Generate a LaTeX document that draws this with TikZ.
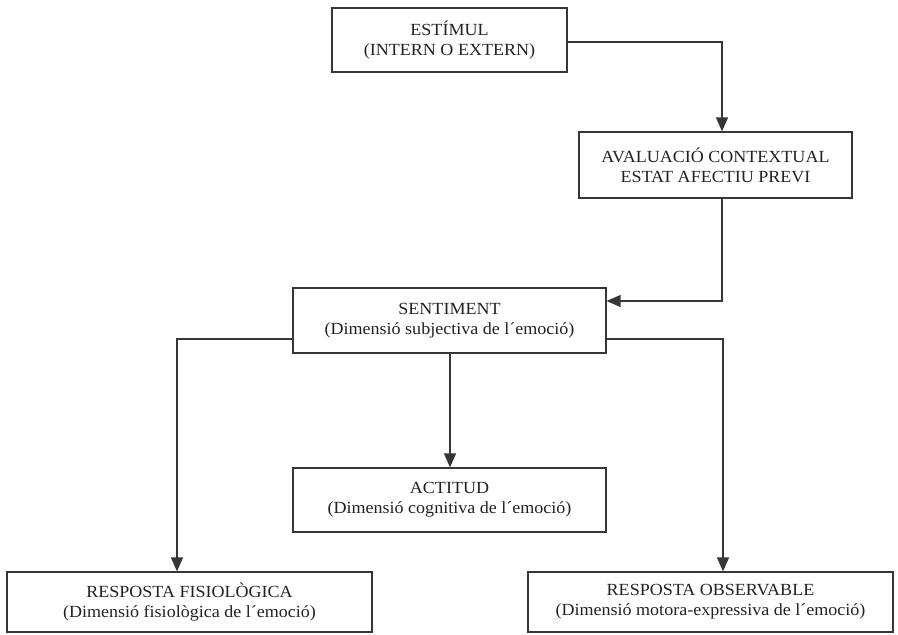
\documentclass[tikz,border=0pt]{standalone}
\usepackage{fontspec}
\setmainfont{Liberation Serif}[FakeStretch=1.06]
\usetikzlibrary{arrows.meta,calc}
\definecolor{linec}{HTML}{363636}
\definecolor{textc}{HTML}{222222}
\begin{document}
\begin{tikzpicture}[x=1pt,y=-1pt,
  box/.style={draw=linec, line width=1.2pt, align=center, inner sep=0pt,
    text=textc, font=\fontsize{17}{20}\selectfont},
  conn/.style={draw=linec, line width=1.3pt},
  arr/.style={conn, -{Triangle[length=14pt,width=12pt]}}]
\useasboundingbox (0,0) rectangle (898,635);
\clip (0,0) rectangle (898,635);
\fill[white] (0,0) rectangle (898,635);
\node[box, minimum width=235pt, minimum height=64pt] (est) at (449.5,40) {ESTÍMUL\\(INTERN O EXTERN)};
\node[box, minimum width=273pt, minimum height=66pt] (aval) at (715.5,165) {AVALUACIÓ CONTEXTUAL\\ESTAT AFECTIU PREVI};
\node[box, minimum width=313pt, minimum height=65pt] (sent) at (449.5,320.5) {SENTIMENT\\(Dimensió subjectiva de l´emoció)};
\node[box, minimum width=313pt, minimum height=64pt] (act) at (449.5,500) {ACTITUD\\(Dimensió cognitiva de l´emoció)};
\node[box, minimum width=365pt, minimum height=60pt] (fis) at (189.5,602) {RESPOSTA FISIOLÒGICA\\(Dimensió fisiològica de l´emoció)};
\node[box, minimum width=365pt, minimum height=60pt] (obs) at (710.5,602) {RESPOSTA OBSERVABLE\\(Dimensió motora-expressiva de l´emoció)};
\coordinate (c1) at (722,42);
\coordinate (c2) at (722,301);
\coordinate (c3) at (177,339);
\coordinate (c4) at (723,339);
\coordinate (c5) at (450,400);
\draw[arr] (est.east |- c1) -- (c1) -- (c1 |- aval.north);
\draw[arr] (c2 |- aval.south) -- (c2) -- (c2 -| sent.east);
\draw[arr] (c3 -| sent.west) -- (c3) -- (c3 |- fis.north);
\draw[arr] (c4 -| sent.east) -- (c4) -- (c4 |- obs.north);
\draw[arr] (c5 |- sent.south) -- (c5 |- act.north);
\end{tikzpicture}
\end{document}
